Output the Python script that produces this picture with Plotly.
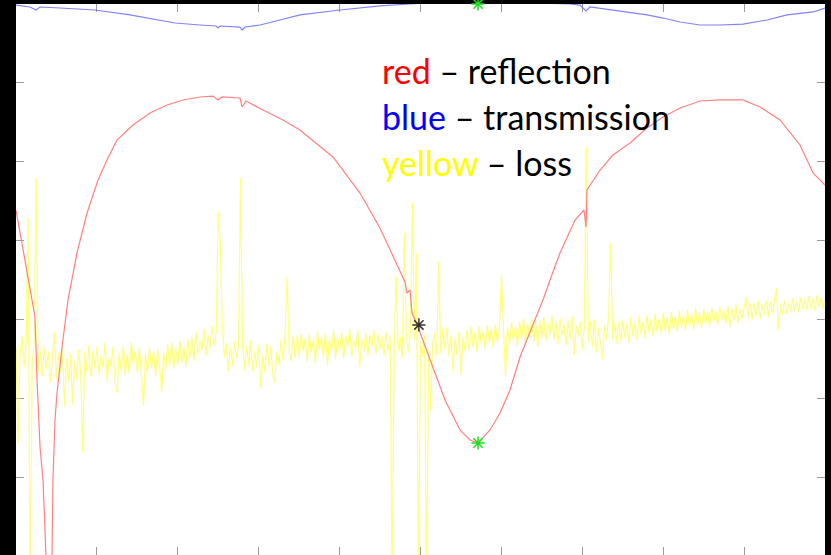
import plotly.graph_objects as go

# ---- reflection (S11), dB vs frequency ----
refl_f = [0.000, 0.074, 0.148, 0.235, 0.260, 0.297, 0.334, 0.371, 0.408, 0.445, 0.457, 0.482,
          0.507, 0.569, 0.643, 0.754, 0.878, 1.014, 1.125, 1.248, 1.446, 1.656, 1.866, 2.064,
          2.274, 2.435, 2.497, 2.546, 2.769, 2.794, 2.843, 3.053, 3.300, 3.510, 3.918, 4.252,
          4.499, 4.808, 4.833, 4.870, 4.895, 4.969, 5.155, 5.303, 5.365, 5.488, 5.612, 5.711,
          5.859, 5.983, 6.106, 6.230, 6.378, 6.514, 6.601, 6.724, 6.910, 7.021, 7.046, 7.058,
          7.219, 7.379, 7.589, 7.800, 7.998, 8.208, 8.455, 8.702, 8.986, 9.197, 9.444, 9.691,
          9.852, 10.000]
refl_db = [-26.12, -30.56, -35.00, -39.69, -47.68, -56.18, -60.36, -69.87, -80.00, -69.87, -60.36, -52.75,
           -49.33, -43.49, -37.53, -31.57, -26.50, -22.32, -19.78, -17.25, -15.34, -13.82, -12.81, -12.17,
           -11.79, -11.67, -12.17, -11.79, -11.92, -13.06, -12.30, -13.44, -14.71, -15.98, -19.40, -23.97,
           -28.40, -35.25, -36.65, -36.27, -39.18, -40.96, -46.03, -50.22, -51.48, -54.02, -55.29, -55.67,
           -54.02, -51.86, -48.95, -44.76, -40.96, -37.53, -35.00, -31.57, -27.39, -26.12, -28.28, -23.59,
           -21.05, -19.15, -17.63, -15.72, -14.33, -13.19, -12.30, -12.17, -12.17, -13.06, -14.71, -17.88,
           -21.43, -22.95]

# ---- transmission (S21), dB vs frequency ----
trans_f = [0.000, 0.173, 0.247, 0.297, 0.544, 0.977, 1.409, 1.780, 1.965, 2.274, 2.472, 2.497,
           2.522, 2.769, 2.794, 2.831, 3.016, 3.263, 3.510, 4.005, 4.499, 4.870, 5.241, 5.711,
           6.230, 6.848, 6.972, 7.046, 7.095, 7.379, 7.800, 7.998, 8.208, 8.455, 8.702, 8.986,
           9.283, 9.530, 9.852, 10.000]
trans_db = [-0.13, -0.38, -0.76, -0.38, -0.51, -0.76, -1.39, -2.03, -2.41, -2.66, -2.79, -3.04,
            -2.79, -2.92, -3.30, -2.92, -2.66, -2.03, -1.39, -0.76, -0.25, 0.00, 0.25, 0.38,
            0.25, 0.00, -0.13, -0.89, -0.38, -0.76, -1.39, -1.78, -2.28, -2.66, -2.66, -2.54,
            -2.03, -1.39, -1.01, -0.51]

# ---- loss, dB, one sample every 0.025 from 0 to 10 (20 samples per row) ----
loss_step = 0.025
loss_db = [
    -43.5, -55.7, -44.5, -42.0, -46.0, -43.0, -27.1, -75.0, -45.5, -43.0,
    -22.1, -46.8, -44.0, -47.2, -43.6, -46.3, -44.1, -48.0, -45.0, -41.7,
    -47.5, -44.2, -46.8, -43.9, -51.0, -45.0, -47.9, -44.3, -50.8, -45.2,
    -47.6, -43.8, -46.9, -56.8, -44.1, -46.6, -43.2, -47.3, -44.0, -46.2,
    -43.5, -47.0, -44.6, -46.1, -42.9, -47.8, -44.8, -46.0, -43.4, -48.0,
    -49.3, -44.2, -46.5, -43.3, -47.1, -44.5, -46.9, -42.8, -45.6, -44.0,
    -46.8, -43.6, -47.0, -50.9, -44.4, -46.7, -43.5, -46.2, -44.0, -47.3,
    -43.8, -46.0, -49.3, -44.2, -46.4, -43.1, -45.9, -42.9, -46.3, -43.6,
    -45.8, -42.7, -45.5, -43.4, -46.0, -42.5, -44.9, -42.2, -45.3, -41.6,
    -44.4, -42.8, -43.9, -41.2, -44.6, -42.0, -43.7, -40.8, -43.3, -41.5,
    -26.4, -30.4, -40.5, -44.8, -43.0, -46.5, -43.6, -45.9, -42.8, -44.9,
    -43.5, -22.1, -43.0, -46.4, -43.3, -45.8, -42.6, -46.6, -44.0, -46.1,
    -43.2, -48.6, -44.5, -46.8, -43.1, -45.9, -43.4, -47.0, -48.0, -44.0,
    -45.7, -42.6, -45.2, -42.3, -34.6, -43.8, -45.3, -42.1, -44.9, -42.0,
    -44.7, -41.8, -44.0, -42.4, -45.4, -41.9, -44.2, -42.6, -45.6, -41.5,
    -43.8, -42.2, -44.7, -41.7, -45.8, -42.5, -44.1, -41.3, -45.0, -42.3,
    -43.9, -41.6, -44.9, -42.0, -43.4, -41.2, -44.8, -42.7, -43.6, -41.4,
    -46.0, -42.5, -44.1, -41.8, -44.6, -42.0, -43.5, -41.3, -44.3, -41.9,
    -43.8, -42.1, -44.6, -41.6, -43.9, -42.2, -75.0, -43.5, -34.6, -44.0,
    -42.2, -44.9, -29.0, -42.0, -44.2, -41.5, -25.2, -42.6, -31.6, -75.0,
    -42.8, -44.5, -41.9, -75.0, -44.0, -51.5, -43.1, -41.8, -44.6, -32.7,
    -44.3, -41.2, -43.8, -41.0, -44.6, -42.0, -46.5, -42.4, -44.5, -41.6,
    -47.0, -42.2, -44.0, -41.3, -43.9, -40.9, -43.5, -41.6, -44.2, -40.8,
    -43.0, -41.5, -43.8, -40.7, -42.9, -41.2, -43.6, -40.6, -42.8, -41.4,
    -34.4, -42.0, -47.3, -41.0, -43.2, -40.4, -42.7, -40.9, -43.4, -40.2,
    -42.5, -39.9, -43.0, -40.6, -42.2, -39.8, -42.9, -40.3, -43.5, -40.0,
    -42.4, -39.7, -42.8, -40.5, -41.9, -39.5, -42.6, -40.2, -43.1, -39.9,
    -42.0, -40.6, -43.3, -40.1, -42.5, -39.6, -44.5, -40.8, -42.2, -40.3,
    -43.8, -41.0, -18.1, -42.8, -40.2, -43.5, -40.0, -44.2, -41.0, -43.0,
    -45.1, -40.8, -42.6, -39.8, -30.3, -42.5, -40.6, -43.0, -40.3, -42.7,
    -40.0, -42.4, -40.5, -42.9, -39.8, -42.1, -40.4, -42.6, -39.6, -41.9,
    -40.3, -42.4, -39.4, -41.7, -40.0, -42.2, -39.3, -41.6, -39.9, -41.8,
    -39.2, -41.5, -39.7, -41.9, -39.0, -41.2, -39.6, -41.6, -38.9, -41.0,
    -39.5, -41.4, -38.8, -40.9, -39.3, -41.3, -38.6, -40.8, -39.2, -41.1,
    -38.7, -40.6, -39.0, -41.0, -38.5, -40.3, -38.9, -40.7, -38.4, -40.1,
    -38.8, -40.5, -38.3, -41.0, -38.6, -40.2, -38.1, -40.4, -38.7, -39.9,
    -38.3, -37.2, -39.8, -38.0, -40.0, -37.9, -39.6, -37.7, -39.9, -38.1,
    -39.4, -37.6, -39.7, -37.8, -39.2, -37.5, -36.0, -41.3, -38.0, -39.4,
    -37.6, -39.3, -37.9, -39.0, -37.3, -38.9, -37.7, -39.1, -37.2, -38.7,
    -37.5, -38.8, -37.0, -38.6, -37.4, -38.9, -36.9, -38.4, -37.3, -38.6,
    -37.8,
]
loss_f = [round(i * loss_step, 3) for i in range(len(loss_db))]

# marker positions: cursor on reflection, minimum of reflection, maximum of transmission
cursor_f, cursor_db = [4.98], [-40.7]
refl_min_f, refl_min_db = [5.711], [-55.67]
trans_max_f, trans_max_db = [5.711], [0.0]

x_ticks = [1, 2, 3, 4, 5, 6, 7, 8, 9]
y_ticks = [-60, -50, -40, -30, -20, -10]

legend_lines = [
    ("red", "#ff0000", "reflection"),
    ("blue", "#0000ff", "transmission"),
    ("yellow", "#ffff00", "loss"),
]

fig = go.Figure()
fig.add_trace(go.Scatter(x=loss_f, y=loss_db, mode="lines",
                         line=dict(color="rgba(255,255,100,0.85)", width=1.2)))
fig.add_trace(go.Scatter(x=refl_f, y=refl_db, mode="lines",
                         line=dict(color="rgba(255,115,115,0.9)", width=1.2)))
fig.add_trace(go.Scatter(x=trans_f, y=trans_db, mode="lines",
                         line=dict(color="rgba(115,115,255,0.9)", width=1.2)))
star = dict(symbol="asterisk-open", size=11)
fig.add_trace(go.Scatter(x=cursor_f, y=cursor_db, mode="markers",
                         marker=dict(**star, color="#333333",
                                     line=dict(color="#333333", width=1.5))))
fig.add_trace(go.Scatter(x=refl_min_f, y=refl_min_db, mode="markers",
                         marker=dict(**star, color="#22dd22",
                                     line=dict(color="#22dd22", width=1.5))))
fig.add_trace(go.Scatter(x=trans_max_f, y=trans_max_db, mode="markers", cliponaxis=False,
                         marker=dict(**star, color="#22dd22",
                                     line=dict(color="#22dd22", width=1.5))))

y_lines = [0.8793, 0.7958, 0.7123]
for (word, col, desc), yy in zip(legend_lines, y_lines):
    fig.add_annotation(
        xref="paper", yref="paper", x=0.450, y=yy,
        xanchor="left", yanchor="middle", showarrow=False,
        text=f"<span style='color:{col}'>{word}</span> – {desc}",
        font=dict(family="Lato, Open Sans, sans-serif", size=34, color="#000000"),
    )

axis_common = dict(showgrid=False, zeroline=False, showticklabels=False,
                   ticks="inside", ticklen=8, tickwidth=1, tickcolor="#9a9a9a",
                   showline=True, linecolor="#000000", linewidth=1, mirror="allticks",
                   layer="below traces")

fig.update_xaxes(range=[0, 10], tickvals=x_ticks, **axis_common)
fig.update_yaxes(range=[-69.87, 0], tickvals=y_ticks, **axis_common)

fig.update_layout(
    width=831, height=555,
    margin=dict(l=16, r=6, t=4, b=0, pad=0),
    paper_bgcolor="#000000", plot_bgcolor="#ffffff",
    showlegend=False,
)

fig.write_html("out.html")
